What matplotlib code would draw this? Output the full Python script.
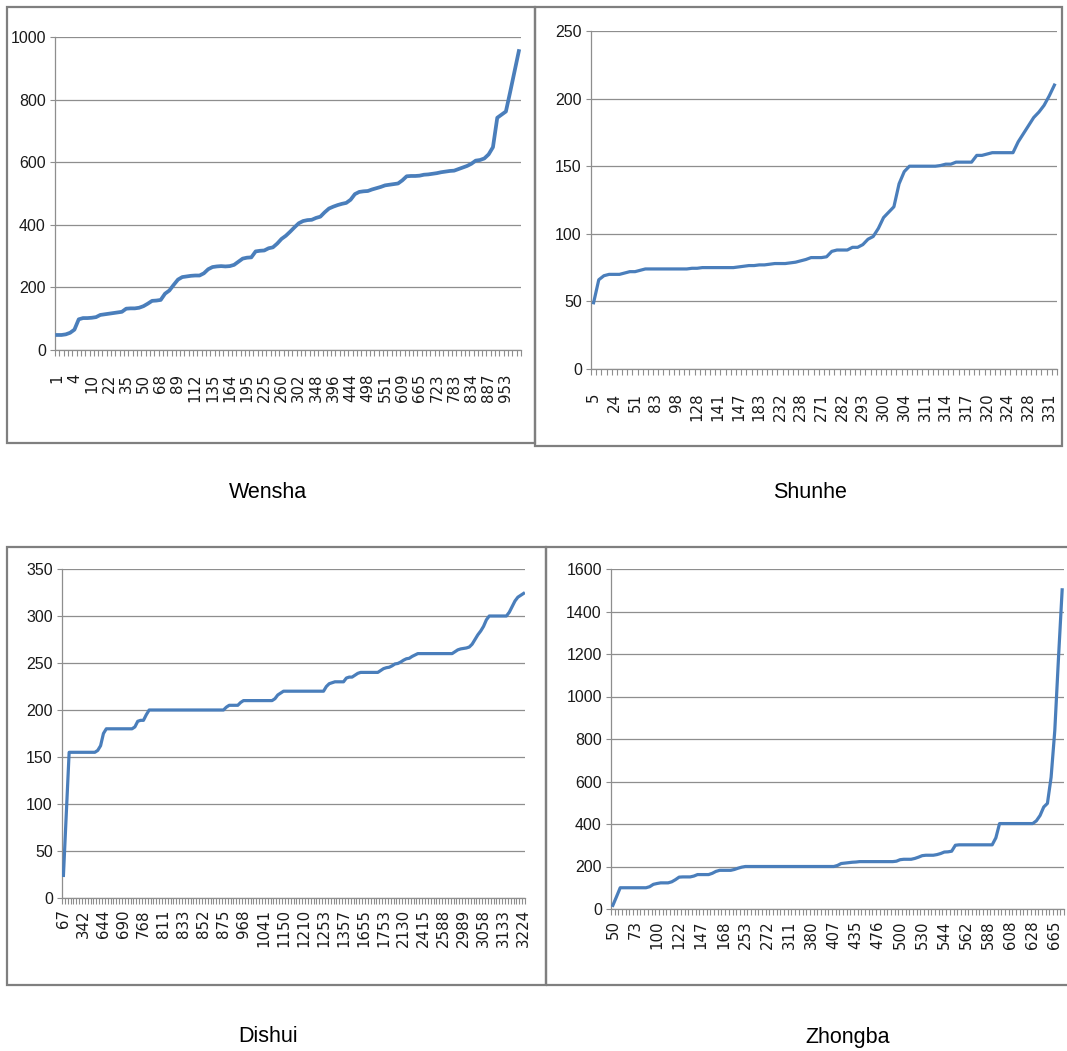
import matplotlib
matplotlib.use('Agg')

import matplotlib.pyplot as plt
from matplotlib.patches import Rectangle
from matplotlib.ticker import FixedLocator, MultipleLocator
import numpy as np


FIG_W, FIG_H = 1067, 1051  # pixels
DPI = 100

LINE_COLOR = '#4a7ebb'
GRID_COLOR = '#8e8e8e'
FRAME_COLOR = '#7f7f7f'

YLABEL_FONT = ['Liberation Sans', 'DejaVu Sans']
XLABEL_FONT = ['DejaVu Sans']
CAPTION_FONT = ['Liberation Sans', 'DejaVu Sans']

# Wensha: sorted values, one per category; every 4th category is labelled
wensha_labels = ['1', '4', '10', '22', '35', '50', '68', '89', '112', '135',
                 '164', '195', '225', '260', '302', '348', '396', '444', '498',
                 '551', '609', '665', '723', '783', '834', '887', '953']
wensha_values = [48, 48, 50, 55, 65, 98, 102, 102, 103, 105,
                 112, 114, 116, 118, 120, 122, 132, 133, 133, 135,
                 140, 148, 157, 158, 160, 180, 190, 208, 225, 233,
                 235, 237, 238, 238, 245, 258, 265, 267, 268, 267,
                 268, 272, 282, 292, 295, 296, 315, 317, 318, 325,
                 328, 340, 355, 365, 378, 392, 405, 412, 415, 416,
                 422, 426, 440, 452, 458, 463, 467, 470, 480, 498,
                 505, 507, 508, 513, 517, 521, 526, 528, 530, 532,
                 542, 555, 556, 556, 557, 560, 561, 563, 565, 568,
                 570, 572, 573, 578, 583, 588, 595, 605, 607, 612,
                 625, 648, 742, 752, 762, 825, 890, 955]

# Shunhe
shunhe_labels = ['5', '24', '51', '83', '98', '128', '141', '147', '183', '232',
                 '238', '271', '282', '293', '300', '304', '311', '314', '317',
                 '320', '324', '328', '331']
shunhe_values = [49, 66, 69, 70, 70, 70, 71, 72, 72, 73,
                 74, 74, 74, 74, 74, 74, 74, 74, 74, 74.5,
                 74.5, 75, 75, 75, 75, 75, 75, 75, 75.5, 76,
                 76.5, 76.5, 77, 77, 77.5, 78, 78, 78, 78.5, 79,
                 80, 81, 82.4, 82.4, 82.4, 83, 87, 88, 88, 88,
                 90, 90, 92, 96, 98, 104, 112, 116, 120, 137,
                 146, 150, 150, 150, 150, 150, 150, 150.5, 151.5, 151.5,
                 153, 153, 153, 153, 158, 158, 159, 160, 160, 160,
                 160, 160, 168, 174, 180, 186, 190, 195, 202, 210]

# Dishui: every 7th category is labelled
dishui_labels = ['67', '342', '644', '690', '768', '811', '833', '852', '875',
                 '968', '1041', '1150', '1210', '1253', '1357', '1655', '1753',
                 '2130', '2415', '2588', '2989', '3058', '3133', '3224']
dishui_values = [24, 90, 155, 155, 155, 155, 155, 155, 155, 155,
                 155, 155, 157, 162, 175, 180, 180, 180, 180, 180,
                 180, 180, 180, 180, 180, 182, 188, 189, 189, 195,
                 200, 200, 200, 200, 200, 200, 200, 200, 200, 200,
                 200, 200, 200, 200, 200, 200, 200, 200, 200, 200,
                 200, 200, 200, 200, 200, 200, 200, 203, 205, 205,
                 205, 205, 208, 210, 210, 210, 210, 210, 210, 210,
                 210, 210, 210, 210, 212, 216, 218, 220, 220, 220,
                 220, 220, 220, 220, 220, 220, 220, 220, 220, 220,
                 220, 220, 225, 228, 229, 230, 230, 230, 230, 234,
                 235, 235, 237, 239, 240, 240, 240, 240, 240, 240,
                 240, 242, 244, 245, 245.5, 247, 249, 249.5, 251, 253,
                 254.5, 255, 257, 258.5, 260, 260, 260, 260, 260, 260,
                 260, 260, 260, 260, 260, 260, 260, 262, 264, 265,
                 265.5, 266, 267, 270, 275, 280, 284, 289, 296, 300,
                 300, 300, 300, 300, 300, 300, 304, 310, 316, 320,
                 322, 324]

# Zhongba: every 6th category is labelled
zhongba_labels = ['50', '73', '100', '122', '147', '168', '253', '272', '311',
                  '380', '407', '435', '476', '500', '530', '544', '562', '588',
                  '608', '628', '665']
zhongba_values = [17, 58, 100, 100, 100, 100, 100, 100, 100, 100,
                  105, 116, 120, 123, 123, 123, 128, 138, 150, 151,
                  151, 151, 155, 162, 162, 162, 162, 168, 177, 182,
                  182, 182, 182, 186, 192, 197, 200, 200, 200, 200,
                  200, 200, 200, 200, 200, 200, 200, 200, 200, 200,
                  200, 200, 200, 200, 200, 200, 200, 200, 200, 200,
                  200, 205, 214, 216, 218, 220, 221, 223, 223, 223,
                  223, 223, 223, 223, 223, 223, 223, 225, 232, 234,
                  234, 234, 238, 244, 251, 253, 253, 253, 256, 261,
                  268, 269, 272, 300, 302, 302, 302, 302, 302, 302,
                  302, 302, 302, 302, 335, 402, 402, 402, 402, 402,
                  402, 402, 402, 402, 402, 415, 440, 480, 497, 620,
                  840, 1180, 1502]

PANELS = [
    # name, labels, label step, values, y max, y step,
    # axes box (l, t, r, b), frame box, caption xy, line width, x label pad
    ('Wensha', wensha_labels, 4, wensha_values, 1000, 200,
     (55, 37, 521, 350), (7, 7, 535, 443), (268, 492), 2.7, 17),
    ('Shunhe', shunhe_labels, 4, shunhe_values, 250, 50,
     (591, 31, 1057, 369), (535, 7, 1062, 446), (810, 492), 2.3, 17),
    ('Dishui', dishui_labels, 7, dishui_values, 350, 50,
     (62, 569, 525, 898), (7, 547, 546, 985), (268, 1037), 2.3, 8),
    ('Zhongba', zhongba_labels, 6, zhongba_values, 1600, 200,
     (611, 569, 1064, 909), (546, 547, 1078, 985), (848, 1037), 2.3, 8),
]


def px_box(box):
    left, top, right, bottom = box
    return [left / FIG_W, 1 - bottom / FIG_H, (right - left) / FIG_W, (bottom - top) / FIG_H]


def draw_panel(fig, name, labels, step, values, ymax, ystep, ax_box, frame_box,
               caption_xy, lw, xpad):
    # Gray frame around each chart
    fl, ft, fr, fb = frame_box
    fig.add_artist(Rectangle((fl / FIG_W, 1 - fb / FIG_H), (fr - fl) / FIG_W, (fb - ft) / FIG_H,
                             transform=fig.transFigure, fill=False,
                             edgecolor=FRAME_COLOR, linewidth=1.6))

    ax = fig.add_axes(px_box(ax_box))
    n = len(values)
    x = np.arange(n) + 0.5
    ax.plot(x, values, color=LINE_COLOR, linewidth=lw, solid_joinstyle='round', zorder=3)

    ax.set_xlim(0, n)
    ax.set_ylim(0, ymax)

    # Category axis: a tick at every category boundary, a label on every step-th category
    ax.xaxis.set_major_locator(FixedLocator(np.arange(0, n, step)[:len(labels)] + 0.5))
    ax.set_xticklabels(labels, rotation=90, family=XLABEL_FONT, fontsize=10.8, color='#1a1a1a')
    ax.xaxis.set_minor_locator(MultipleLocator(1))
    ax.tick_params(axis='x', which='major', length=0, pad=xpad)
    ax.tick_params(axis='x', which='minor', length=4.3, width=0.8, color=GRID_COLOR, direction='out')

    ax.yaxis.set_major_locator(MultipleLocator(ystep))
    ax.tick_params(axis='y', length=3.6, width=0.8, color=GRID_COLOR, pad=3)
    for lab in ax.get_yticklabels():
        lab.set_family(YLABEL_FONT)
        lab.set_fontsize(11.5)
        lab.set_color('#1a1a1a')

    ax.grid(axis='y', color=GRID_COLOR, linewidth=0.9)
    ax.set_axisbelow(True)
    for side in ('top', 'right'):
        ax.spines[side].set_visible(False)
    for side in ('left', 'bottom'):
        ax.spines[side].set_color(GRID_COLOR)
        ax.spines[side].set_linewidth(0.9)

    cx, cy = caption_xy
    fig.text(cx / FIG_W, 1 - cy / FIG_H, name, ha='center', va='center',
             family=CAPTION_FONT, fontsize=15.5, color='black')


def main():
    fig = plt.figure(figsize=(FIG_W / DPI, FIG_H / DPI), dpi=DPI)
    fig.patch.set_facecolor('white')
    for panel in PANELS:
        draw_panel(fig, *panel)
    fig.savefig('out.png', dpi=DPI)
    plt.close(fig)


if __name__ == '__main__':
    main()
